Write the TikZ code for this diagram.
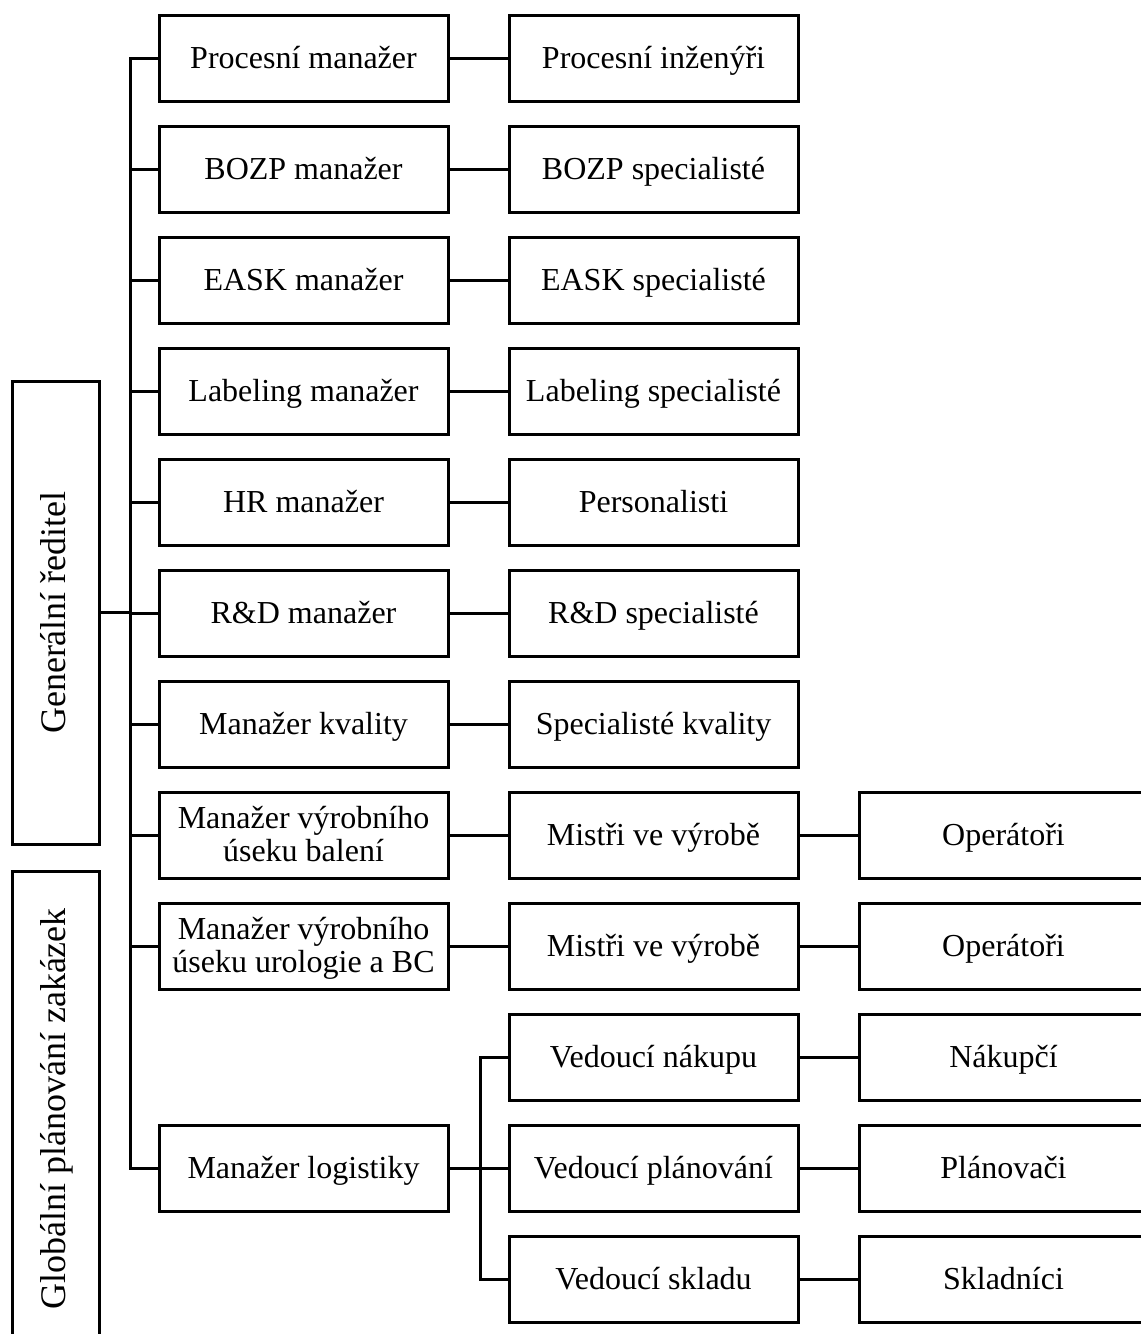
\documentclass[tikz,border=0pt]{standalone}
\usepackage{fontspec}
\setmainfont{Liberation Serif}
\usetikzlibrary{calc}

\tikzset{
  box/.style={draw, line width=3pt, minimum width=289pt, minimum height=86pt,
    inner sep=2pt, align=center, text height=26pt, text depth=6pt,
    font=\fontsize{32}{33}\selectfont},
  twoline/.style={text height=59pt},
  side/.style={draw, line width=3pt, minimum width=463pt, minimum height=87pt,
    rotate=90, text height=27pt, text depth=8pt, font=\fontsize{36}{38}\selectfont},
  link/.style={line width=3pt}
}

\begin{document}
\begin{tikzpicture}[x=1pt,y=-1pt]
			\useasboundingbox (0,0) rectangle (1141,1334);
			\clip (0,0) rectangle (1141,1334);
			% vedeni
			\node[side] (gr) at (55.5,612.5) {Generální ředitel};
			\node[side, minimum width=475pt] (gp) at (55.5,1109) {Globální plánování zakázek};
			% manazeri
			\node[box] (m1) at (303.5,58) {Procesní manažer};
			\node[box] (m2) at (303.5,169) {BOZP manažer};
			\node[box] (m3) at (303.5,280) {EASK manažer};
			\node[box] (m4) at (303.5,391) {Labeling manažer};
			\node[box] (m5) at (303.5,502) {HR manažer};
			\node[box] (m6) at (303.5,613) {R\&D manažer};
			\node[box] (m7) at (303.5,724) {Manažer kvality};
			\node[box, twoline] (m8) at (303.5,835) {Manažer výrobního\\úseku balení};
			\node[box, twoline] (m9) at (303.5,946) {Manažer výrobního\\úseku urologie a BC};
			\node[box] (m10) at (303.5,1168) {Manažer logistiky};
			% podrizeni
			\node[box] (s1) at (653.5,58) {Procesní inženýři};
			\node[box] (s2) at (653.5,169) {BOZP specialisté};
			\node[box] (s3) at (653.5,280) {EASK specialisté};
			\node[box] (s4) at (653.5,391) {Labeling specialisté};
			\node[box] (s5) at (653.5,502) {Personalisti};
			\node[box] (s6) at (653.5,613) {R\&D specialisté};
			\node[box] (s7) at (653.5,724) {Specialisté kvality};
			\node[box] (s8) at (653.5,835) {Mistři ve výrobě};
			\node[box] (s9) at (653.5,946) {Mistři ve výrobě};
			\node[box] (v1) at (653.5,1057) {Vedoucí nákupu};
			\node[box] (v2) at (653.5,1168) {Vedoucí plánování};
			\node[box] (v3) at (653.5,1279) {Vedoucí skladu};
			% treti uroven
			\node[box] (o8) at (1003.5,835) {Operátoři};
			\node[box] (o9) at (1003.5,946) {Operátoři};
			\node[box] (c1) at (1003.5,1057) {Nákupčí};
			\node[box] (c2) at (1003.5,1168) {Plánovači};
			\node[box] (c3) at (1003.5,1279) {Skladníci};
			% spojnice
			\coordinate (spine) at (130,0);
			\coordinate (lspine) at (480,0);
			\draw[link] (gr.south) -- (gr.south -| spine);
			\foreach \i in {1,...,10}
				\draw[link] (gr.south -| spine) |- (m\i.west);
			\foreach \i in {1,...,9}
				\draw[link] (m\i.east) -- (s\i.west);
			\draw[link] (s8.east) -- (o8.west);
			\draw[link] (s9.east) -- (o9.west);
			\draw[link] (m10.east) -- (m10.east -| lspine);
			\foreach \i in {1,2,3} {
				\draw[link] (m10.east -| lspine) |- (v\i.west);
				\draw[link] (v\i.east) -- (c\i.west);
			}
		\end{tikzpicture}
\end{document}
